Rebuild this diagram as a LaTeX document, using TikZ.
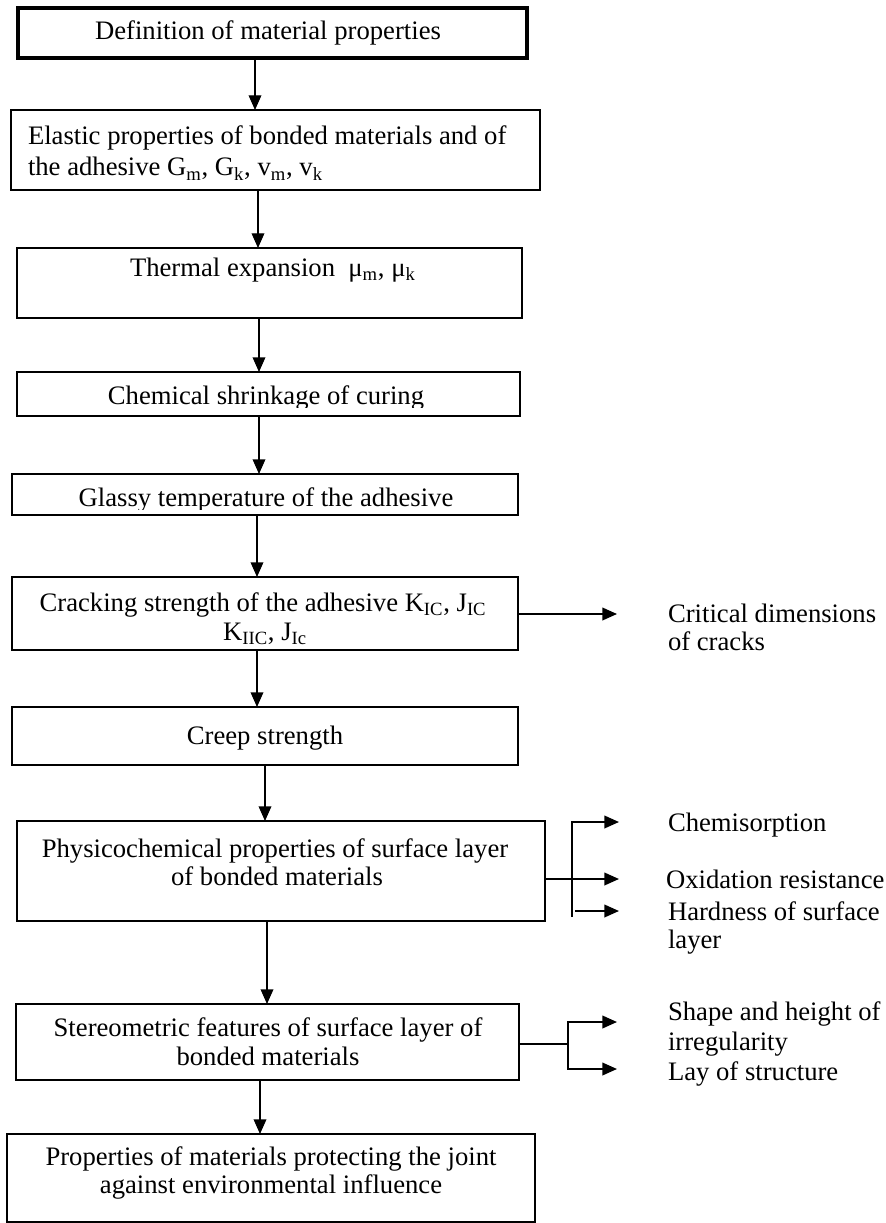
\documentclass[tikz,border=0pt]{standalone}
\usepackage{fontspec}
\setmainfont{Liberation Serif}
\usetikzlibrary{arrows.meta}
\begin{document}
\begin{tikzpicture}[x=0.75pt,y=-0.75pt,
  box/.style={draw, line width=1.3pt, inner sep=0pt, outer sep=0pt},
  thickbox/.style={box, line width=2.6pt},
  txt/.style={inner sep=0pt, outer sep=0pt, font=\fontsize{20}{21}\selectfont},
  arr/.style={line width=1pt, -{Triangle[length=11pt,width=9.5pt]}},
  sarr/.style={line width=1.3pt, -{Triangle[length=11pt,width=9.5pt]}},
  ln/.style={line width=1.3pt}]
\useasboundingbox (0,0) rectangle (885,1223);
\fill[white] (0,0) rectangle (885,1223);

% boxes
\node[thickbox, minimum width=381.75pt, minimum height=37.5pt] (b1) at (272.5,33) {};
\node[box, minimum width=396.75pt, minimum height=60pt] (b2) at (275.5,150) {};
\node[box, minimum width=378.75pt, minimum height=52.5pt] (b3) at (269.5,283) {};
\node[box, minimum width=377.25pt, minimum height=33pt] (b4) at (268.5,394) {};
\node[box, minimum width=379.5pt, minimum height=30.75pt] (b5) at (265,494.5) {};
\node[box, minimum width=379.5pt, minimum height=54.75pt] (b6) at (265,613.5) {};
\node[box, minimum width=379.5pt, minimum height=43.5pt] (b7) at (265,736) {};
\node[box, minimum width=396pt, minimum height=75pt] (b8) at (281,871) {};
\node[box, minimum width=377.25pt, minimum height=57pt] (b9) at (267.5,1042) {};
\node[box, minimum width=396pt, minimum height=66pt] (b10) at (271,1178) {};

% box texts
\node[txt, anchor=base] (t1) at (268,40) {Definition of material properties};
\node[txt, anchor=base west] (t2a) at (28,145) {Elastic properties of bonded materials and of};
\node[txt, anchor=base west] (t2b) at (28,176) {the adhesive G\textsubscript{m}, G\textsubscript{k}, v\textsubscript{m}, v\textsubscript{k}};
\node[txt, anchor=base west] (t3) at (130,276) {Thermal expansion\ \ μ\textsubscript{m}, μ\textsubscript{k}};
\begin{scope}
  \clip (0,370) rectangle (885,407);
  \node[txt, anchor=base] (t4) at (266,404) {Chemical shrinkage of curing};
\end{scope}
\begin{scope}
  \clip (0,476) rectangle (885,509);
  \node[txt, anchor=base] (t5) at (266,506) {Glassy temperature of the adhesive};
\end{scope}
\node[txt, anchor=base] (t6a) at (263,611) {Cracking strength of the adhesive K\textsubscript{IC}, J\textsubscript{IC}};
\node[txt, anchor=base] (t6b) at (265,640) {K\textsubscript{IIC}, J\textsubscript{Ic}};
\node[txt, anchor=base] (t7) at (265,744) {Creep strength};
\node[txt, anchor=base] (t8a) at (275,857) {Physicochemical properties of surface layer};
\node[txt, anchor=base] (t8b) at (277,885) {of bonded materials};
\node[txt, anchor=base] (t9a) at (268,1036) {Stereometric features of surface layer of};
\node[txt, anchor=base] (t9b) at (268,1065) {bonded materials};
\node[txt, anchor=base] (t10a) at (271,1165) {Properties of materials protecting the joint};
\node[txt, anchor=base] (t10b) at (271,1193) {against environmental influence};

% right-hand labels
\node[txt, anchor=base west] (crA) at (668,622) {Critical dimensions};
\node[txt, anchor=base west] (crB) at (668,650) {of cracks};
\node[txt, anchor=base west] (chem) at (668,831) {Chemisorption};
\node[txt, anchor=base west] (oxid) at (666,888) {Oxidation resistance};
\node[txt, anchor=base west] (hardA) at (668,920) {Hardness of surface};
\node[txt, anchor=base west] (hardB) at (668,948) {layer};
\node[txt, anchor=base west] (shA) at (668,1020) {Shape and height of};
\node[txt, anchor=base west] (shB) at (668,1050) {irregularity};
\node[txt, anchor=base west] (lay) at (668,1080) {Lay of structure};

% arrow columns
\coordinate (c1) at (255,0);
\coordinate (c2) at (258,0);
\coordinate (c3) at (259,0);
\coordinate (c4) at (259,0);
\coordinate (c5) at (257,0);
\coordinate (c6) at (257,0);
\coordinate (c7) at (265,0);
\coordinate (c8) at (267,0);
\coordinate (c9) at (260,0);

\draw[arr] (b1.south -| c1) -- (b2.north -| c1);
\draw[arr] (b2.south -| c2) -- (b3.north -| c2);
\draw[arr] (b3.south -| c3) -- (b4.north -| c3);
\draw[arr] (b4.south -| c4) -- (b5.north -| c4);
\draw[arr] (b5.south -| c5) -- (b6.north -| c5);
\draw[arr] (b6.south -| c6) -- (b7.north -| c6);
\draw[arr] (b7.south -| c7) -- (b8.north -| c7);
\draw[arr] (b8.south -| c8) -- (b9.north -| c8);
\draw[arr] (b9.south -| c9) -- (b10.north -| c9);

% critical dimensions
\coordinate (ct) at (617,614);
\draw[sarr] (b6.east |- ct) -- (ct);

% physicochemical bracket
\coordinate (ptop) at (572,822);
\coordinate (pbot) at (572,917);
\coordinate (pt1) at (619,822);
\coordinate (pt2) at (619,879);
\coordinate (ph0) at (575,911);
\coordinate (pt3) at (619,911);
\draw[sarr] (pbot) -- (ptop) -- (pt1);
\draw[sarr] (b8.east |- pt2) -- (pt2);
\draw[sarr] (ph0) -- (pt3);

% stereometric bracket
\coordinate (sj) at (568,1044);
\coordinate (st1) at (617,1022);
\coordinate (st2) at (617,1069);
\draw[ln] (b9.east |- sj) -- (sj);
\draw[sarr] (sj) |- (st1);
\draw[sarr] (sj) |- (st2);
\end{tikzpicture}
\end{document}
